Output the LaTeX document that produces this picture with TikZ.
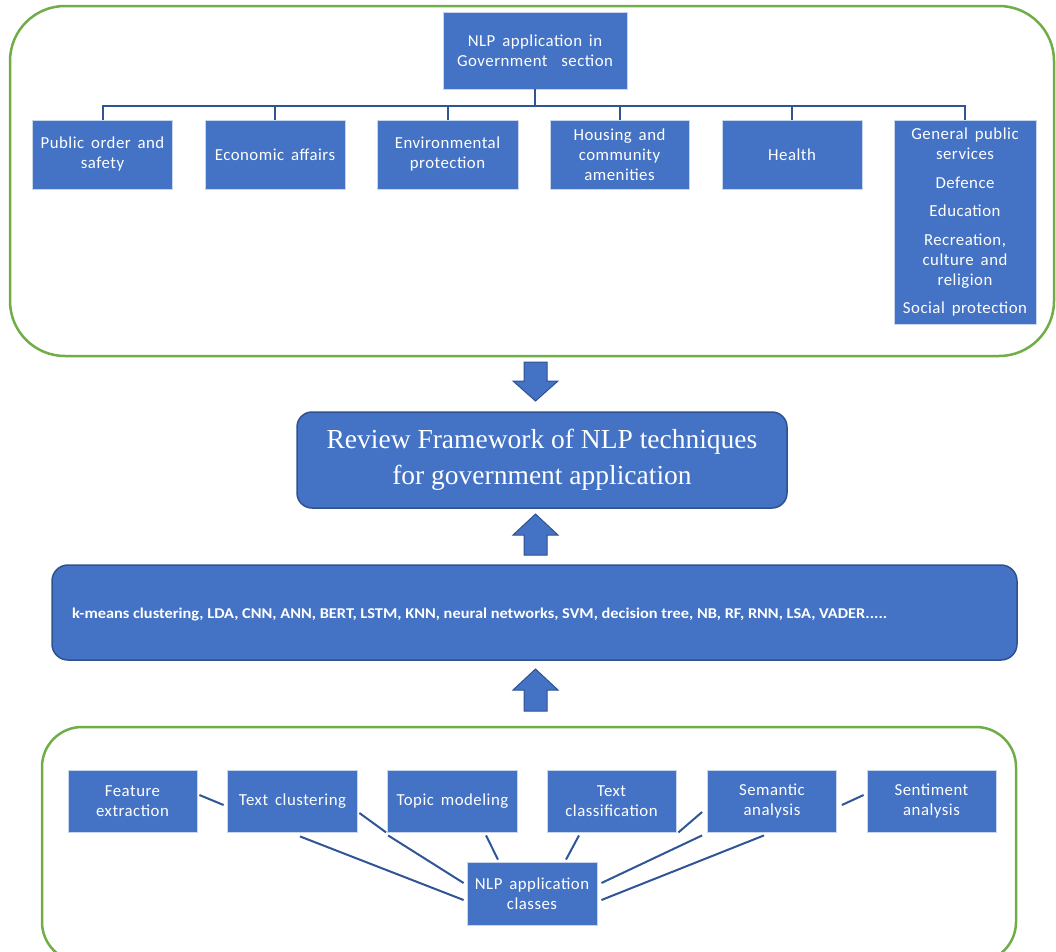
\documentclass[tikz,border=0pt]{standalone}
\usepackage{fontspec}
\setmainfont{Carlito}
\newfontfamily\boxfont[LetterSpace=3,WordSpace=1.6]{Carlito}
\newfontfamily\serifttl{Liberation Serif}
\usetikzlibrary{calc}
\definecolor{boxblue}{HTML}{4472C4}
\definecolor{darkblue}{HTML}{2F528F}
\definecolor{linkblue}{HTML}{2F5597}
\definecolor{framegreen}{HTML}{70AD47}
\tikzset{
  bluebox/.style={fill=boxblue, draw=white!70!boxblue, line width=0.8pt, text=white, align=center, font=\boxfont\fontsize{16.8}{20}\selectfont, inner sep=2pt},
  roundbox/.style={fill=boxblue, draw=darkblue, line width=1.5pt, rounded corners=15pt, text=white},
  frame/.style={draw=framegreen, line width=2.5pt},
  tree/.style={draw=linkblue, line width=2pt},
  conn/.style={draw=linkblue, line width=2pt},
  blockarrow/.style={fill=boxblue, draw=darkblue, line width=1pt, line join=miter}
}
\begin{document}
\begin{tikzpicture}[x=1pt,y=-1pt]
\useasboundingbox (0,0) rectangle (1056,951);
% frames
\draw[frame, rounded corners=55pt] (10,6) rectangle (1054,356);
\draw[frame, rounded corners=40pt] (42,727) rectangle (1016,962);

% top tree
\node[bluebox, minimum width=184pt, minimum height=77pt] (gov) at (535,50.5) {NLP application in\\Government\ \ section};
\node[bluebox, minimum width=140pt, minimum height=69pt] (b1) at (102.5,154.5) {Public order and\\safety};
\node[bluebox, minimum width=140pt, minimum height=69pt] (b2) at (275,154.5) {Economic affairs};
\node[bluebox, minimum width=141pt, minimum height=69pt] (b3) at (447.5,154.5) {Environmental\\protection};
\node[bluebox, minimum width=139pt, minimum height=69pt] (b4) at (619.5,154.5) {Housing and\\community\\amenities};
\node[bluebox, minimum width=140pt, minimum height=69pt] (b5) at (792,154.5) {Health};
\node[bluebox, minimum width=142pt, minimum height=204pt, anchor=north] (b6) at (965,120) {General public\\services\\[8.5pt]Defence\\[8.5pt]Education\\[8.5pt]Recreation,\\culture and\\religion\\[8.5pt]Social protection};
\coordinate (bus) at (535,106);
\foreach \b in {b1,b2,b3,b4,b5,b6}{
  \draw[tree] (gov.south) |- (\b.north |- bus) -- (\b.north);
}

% review box
\node[roundbox, minimum width=490pt, minimum height=96pt, align=center, font=\serifttl\fontsize{27.5}{36}\selectfont] (rev) at (542,460) {Review Framework of NLP techniques\\for government application};

% techniques box
\node[roundbox, rounded corners=16pt, minimum width=965pt, minimum height=95pt] (tech) at (534.5,612.5) {};
\node[anchor=west, text=white, inner sep=0pt, font=\fontsize{15}{18}\bfseries\selectfont] (techtxt) at (72,614) {\resizebox{815pt}{\height}{k-means clustering, LDA, CNN, ANN, BERT, LSTM, KNN, neural networks, SVM, decision tree, NB, RF, RNN, LSA, VADER.....}};

% block arrows
\path[blockarrow] (524,362) -- (547,362) -- (547,381) -- (558,381) -- (535.5,401) -- (513,381) -- (524,381) -- cycle;
\path[blockarrow] (524,555) -- (547,555) -- (547,535) -- (558,535) -- (535.5,514) -- (513,535) -- (524,535) -- cycle;
\path[blockarrow] (524,711) -- (547,711) -- (547,690) -- (558,690) -- (535.5,669) -- (513,690) -- (524,690) -- cycle;

% bottom application classes
\node[bluebox, minimum width=129pt, minimum height=62pt] (fe) at (132.5,801) {Feature\\extraction};
\node[bluebox, minimum width=130pt, minimum height=62pt] (tc) at (292.5,801) {Text clustering};
\node[bluebox, minimum width=130pt, minimum height=62pt] (tm) at (452.5,801) {Topic modeling};
\node[bluebox, minimum width=129pt, minimum height=62pt] (tcl) at (611.5,801) {Text\\classification};
\node[bluebox, minimum width=129pt, minimum height=62pt] (sa) at (772,801) {Semantic\\analysis};
\node[bluebox, minimum width=129pt, minimum height=62pt] (se) at (931.5,801) {Sentiment\\analysis};
\node[bluebox, minimum width=130pt, minimum height=63pt] (nlp) at (532,893.5) {NLP application\\classes};

\draw[conn] ($(tc.south)+(7.5,4)$) -- ($(nlp.west)+(-3,6.5)$);
\draw[conn] ($(fe.east)+(2,-6)$) -- ($(tc.west)+(-3.5,4)$);
\draw[conn] ($(tc.east)+(1.5,12)$) -- ($(tm.south west)+(-1,0)$);
\draw[conn] ($(tm.south west)+(1,3)$) -- ($(nlp.west)+(-3,-10.5)$);
\draw[conn] ($(tm.south)+(33.5,3)$) -- ($(nlp.north)+(-34,-2)$);
\draw[conn] ($(tcl.south)+(-32.5,3)$) -- ($(nlp.north)+(34,-2)$);
\draw[conn] ($(sa.west)+(-5,11)$) -- ($(tcl.south east)+(2,0)$);
\draw[conn] ($(sa.south west)+(-5,3)$) -- ($(nlp.east)+(4,-10.5)$);
\draw[conn] ($(sa.south)+(-8,3)$) -- ($(nlp.east)+(4,6.5)$);
\draw[conn] ($(se.west)+(-3,-6)$) -- ($(sa.east)+(5,4)$);
\end{tikzpicture}
\end{document}
